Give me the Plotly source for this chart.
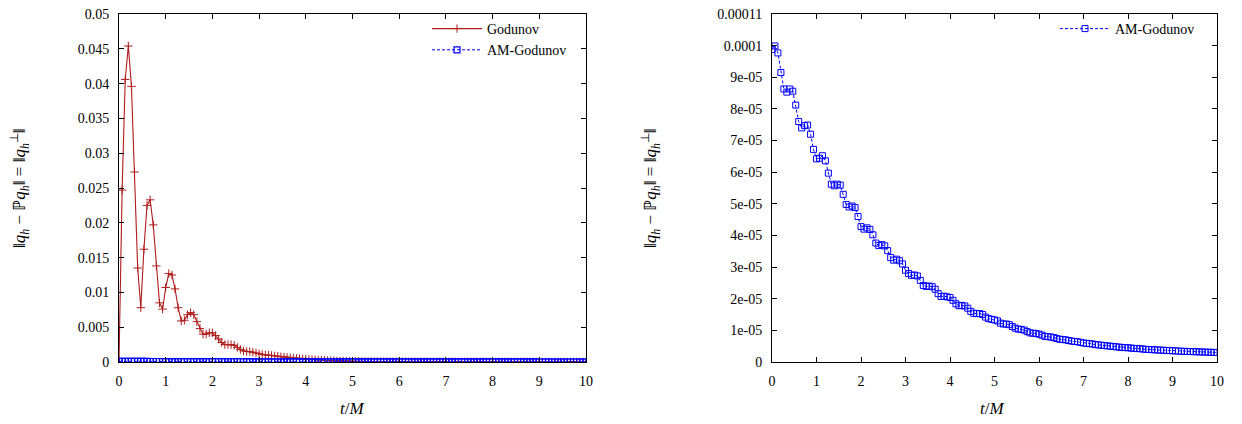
import plotly.graph_objects as go

# ---------------- data ----------------
N_STEPS = 151
DT = 1.0 / 15.0
t = [i * DT for i in range(N_STEPS)]

E5 = 1e-5
godunov = [
    0.0, 0.0247, 0.0406, 0.0454, 0.0396, 0.0273, 0.0135, 0.0078, 0.0162, 0.0225, 0.0233, 0.0197, 0.0138, 0.0085, 0.0076,
    0.0107, 0.0127, 0.0125, 0.0105, 0.0078, 0.0059, 0.0060, 0.0068, 0.0071, 0.0068, 0.0058, 0.0048, 0.0040, 0.0040, 0.0042,
    0.0042, 0.0038, 0.0033, 0.0028, 0.0025, 0.0025, 0.0025, 0.0024, 0.0021, 0.0018, 0.0016, 0.0015, 0.0015, 0.0014, 0.0013,
    0.00118, 0.00108, 0.00102, 0.00098, 0.00094, 0.00088, 0.00082, 0.00076, 0.00071, 0.00066, 0.00062, 0.00058, 0.00053, 0.00049, 0.00045,
    0.00041, 0.00038, 0.00035, 0.00031, 0.00028, 0.00026, 0.00024, 0.00022, 0.00020, 0.00018, 0.00016, 0.00015, 0.00013, 0.00012, 0.00011,
    0.00010, 9.2e-5, 8.5e-5, 7.9e-5, 7.3e-5, 6.8e-5, 6.3e-5, 5.9e-5, 5.5e-5, 5.1e-5, 4.8e-5, 4.5e-5, 4.2e-5, 3.9e-5, 3.7e-5,
    3.5e-5, 3.3e-5, 3.1e-5, 2.9e-5, 2.75e-5, 2.6e-5, 2.45e-5, 2.3e-5, 2.2e-5, 2.1e-5, 2.0e-5, 1.9e-5, 1.8e-5, 1.7e-5, 1.62e-5,
    1.55e-5, 1.48e-5, 1.41e-5, 1.35e-5, 1.29e-5, 1.23e-5, 1.18e-5, 1.13e-5, 1.08e-5, 1.04e-5, 1.0e-5, 0.96e-5, 0.92e-5, 0.89e-5, 0.86e-5,
    0.83e-5, 0.80e-5, 0.77e-5, 0.75e-5, 0.72e-5, 0.70e-5, 0.68e-5, 0.66e-5, 0.64e-5, 0.62e-5, 0.60e-5, 0.58e-5, 0.57e-5, 0.55e-5, 0.54e-5,
    0.52e-5, 0.51e-5, 0.50e-5, 0.48e-5, 0.47e-5, 0.46e-5, 0.45e-5, 0.44e-5, 0.43e-5, 0.42e-5, 0.41e-5, 0.40e-5, 0.39e-5, 0.38e-5, 0.375e-5,
    0.37e-5,
]

am_godunov_e5 = [
    9.88, 9.99, 9.77, 9.15, 8.63, 8.53, 8.63, 8.56, 8.12, 7.60, 7.40, 7.47, 7.49, 7.20, 6.72,
    6.42, 6.44, 6.52, 6.36, 5.97, 5.62, 5.57, 5.62, 5.59, 5.30, 4.98, 4.90, 4.93, 4.88, 4.60,
    4.28, 4.20, 4.24, 4.19, 4.02, 3.76, 3.68, 3.71, 3.67, 3.52, 3.30, 3.22, 3.25, 3.20, 3.10,
    2.90, 2.80, 2.74, 2.75, 2.72, 2.58, 2.42, 2.39, 2.40, 2.38, 2.30, 2.16, 2.07, 2.08, 2.06,
    2.04, 1.95, 1.84, 1.78, 1.79, 1.77, 1.70, 1.60, 1.54, 1.53, 1.53, 1.50, 1.42, 1.37, 1.35,
    1.33, 1.30, 1.23, 1.20, 1.20, 1.18, 1.12, 1.07, 1.04, 1.03, 1.01, 0.96, 0.92, 0.91, 0.90,
    0.88, 0.85, 0.81, 0.80, 0.79, 0.77, 0.74, 0.72, 0.71, 0.70, 0.68, 0.66, 0.65, 0.64, 0.62,
    0.60, 0.59, 0.58, 0.57, 0.55, 0.54, 0.53, 0.52, 0.51, 0.50, 0.49, 0.48, 0.47, 0.46, 0.455,
    0.45, 0.44, 0.43, 0.425, 0.42, 0.41, 0.40, 0.395, 0.39, 0.385, 0.38, 0.375, 0.37, 0.365, 0.36,
    0.355, 0.35, 0.345, 0.34, 0.337, 0.333, 0.33, 0.327, 0.323, 0.32, 0.317, 0.313, 0.31, 0.307, 0.303,
    0.30,
]
am_godunov = [v * E5 for v in am_godunov_e5]

x_ticks = list(range(0, 11))
left_yvals = [0, 0.005, 0.01, 0.015, 0.02, 0.025, 0.03, 0.035, 0.04, 0.045, 0.05]
left_ytext = ["0", "0.005", "0.01", "0.015", "0.02", "0.025", "0.03", "0.035", "0.04", "0.045", "0.05"]
right_yvals = [i * 1e-5 for i in range(12)]
right_ytext = ["0", "1e-05", "2e-05", "3e-05", "4e-05", "5e-05", "6e-05", "7e-05",
               "8e-05", "9e-05", "0.0001", "0.00011"]

# ---------------- style ----------------
FONT = "Liberation Serif"
RED = "#b01c1c"
BLUE = "#0000ff"
W, H = 1242, 424
OFF = 8  # page body margin


def px(x):
    return (x - OFF) / W


def py(y):
    return 1 - (y - OFF) / H


fig = go.Figure()

fig.add_trace(go.Scatter(
    x=t, y=godunov, name="Godunov", mode="lines+markers",
    line=dict(color=RED, width=1.1),
    marker=dict(symbol="cross-thin-open", size=6, line=dict(color=RED, width=1)),
    xaxis="x", yaxis="y", legend="legend",
))
fig.add_trace(go.Scatter(
    x=t, y=am_godunov, name="AM-Godunov", mode="lines+markers",
    line=dict(color=BLUE, width=1, dash="3px,2px"),
    marker=dict(symbol="square-open", size=6, line=dict(color=BLUE, width=1.2)),
    xaxis="x", yaxis="y", legend="legend",
))
fig.add_trace(go.Scatter(
    x=t, y=am_godunov, name="AM-Godunov", mode="lines+markers",
    line=dict(color=BLUE, width=1, dash="3px,2px"),
    marker=dict(symbol="square-open", size=6, line=dict(color=BLUE, width=1)),
    xaxis="x2", yaxis="y2", legend="legend2",
))

axis_common = dict(
    showline=True, linecolor="black", linewidth=1, mirror="ticks",
    ticks="inside", ticklen=5, tickwidth=1, tickcolor="black",
    showgrid=False, zeroline=False, automargin=False,
    ticklabeloverflow="allow",
    tickfont=dict(family=FONT, size=14, color="black"),
)

y_dom = [py(362), py(14)]

fig.update_layout(
    width=W, height=H,
    margin=dict(l=0, r=0, t=0, b=0),
    paper_bgcolor="white", plot_bgcolor="white",
    font=dict(family=FONT, size=14, color="black"),
    xaxis=dict(domain=[px(119), px(586)], range=[0, 10], tickvals=x_ticks,
               ticklabelstandoff=6, anchor="y", **axis_common),
    yaxis=dict(domain=y_dom, range=[0, 0.05], tickvals=left_yvals, ticktext=left_ytext,
               ticklabelstandoff=6, anchor="x", **axis_common),
    xaxis2=dict(domain=[px(772), px(1217)], range=[0, 10], tickvals=x_ticks,
                ticklabelstandoff=6, anchor="y2", **axis_common),
    yaxis2=dict(domain=y_dom, range=[0, 0.00011], tickvals=right_yvals, ticktext=right_ytext,
                ticklabelstandoff=6, anchor="x2", **axis_common),
    legend=dict(x=px(572), y=py(13), xanchor="right", yanchor="top",
                bgcolor="rgba(0,0,0,0)", font=dict(family=FONT, size=14),
                itemwidth=50, tracegroupgap=0),
    legend2=dict(x=px(1200), y=py(13), xanchor="right", yanchor="top",
                 bgcolor="rgba(0,0,0,0)", font=dict(family=FONT, size=14),
                 itemwidth=50),
)

ylabel = "‖<i>q<sub>h</sub></i> − ℙ<i>q<sub>h</sub></i>‖ = ‖<i>q</i><sub><i>h</i></sub><sup>⊥</sup>‖"
xlabel = "<i>t</i>/<i>M</i>"
for xc, txt, ang, yc in [
    (px(19), ylabel, -90, py(188)),
    (px(650), ylabel, -90, py(188)),
    (px(352), xlabel, 0, py(408)),
    (px(992), xlabel, 0, py(408)),
]:
    fig.add_annotation(x=xc, y=yc, xref="paper", yref="paper", text=txt, textangle=ang,
                       showarrow=False, xanchor="center", yanchor="middle",
                       font=dict(family=FONT, size=17, color="black"))

fig.write_html("out.html")
